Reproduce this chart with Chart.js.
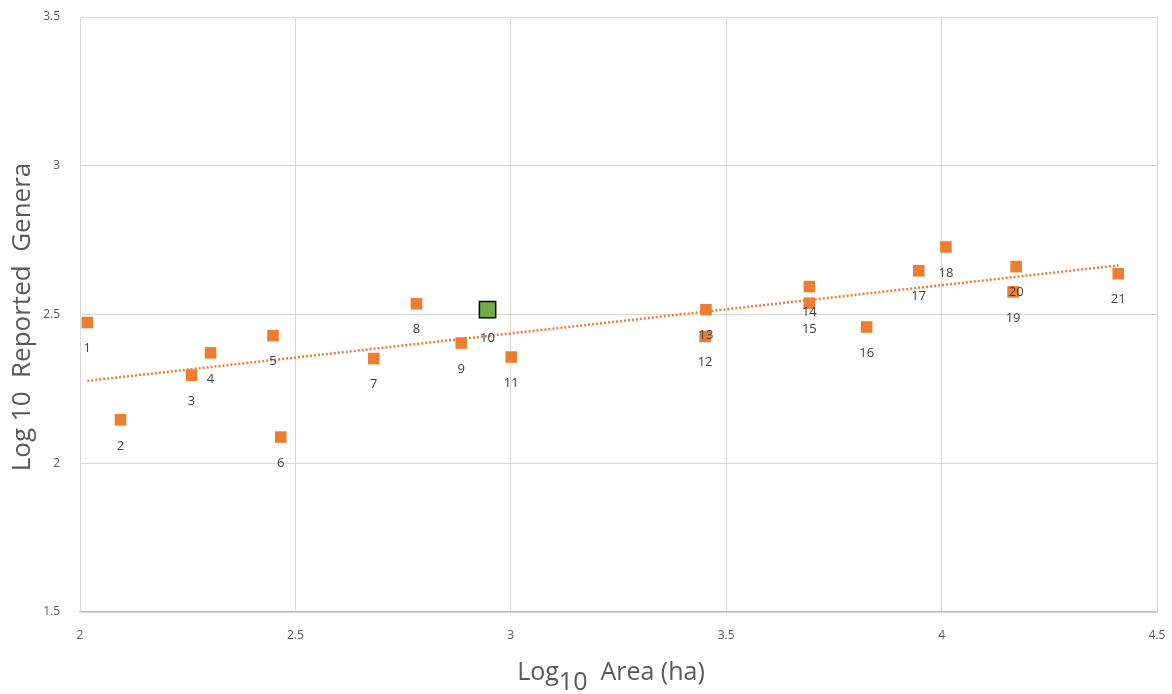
<!DOCTYPE html>
<html>
<head>
<meta charset="utf-8">
<script src="https://cdn.jsdelivr.net/npm/chart.js@4.4.0/dist/chart.umd.min.js"></script>
<style>
  html, body { margin: 0; padding: 0; background: #fff; }
  #wrap { width: 1172px; height: 694px; }
</style>
</head>
<body>
<div id="wrap"><canvas id="chart"></canvas></div>
<script>
// site numbers, log10 area and log10 genera
const siteIds = [1, 2, 3, 4, 5, 6, 7, 8, 9, 10, 11, 12, 13, 14, 15, 16, 17, 18, 19, 20, 21];
const logArea = [2.017, 2.094, 2.259, 2.303, 2.448, 2.466, 2.682, 2.781, 2.885, 2.946, 3.001,
                 3.451, 3.453, 3.693, 3.693, 3.826, 3.947, 4.010, 4.166, 4.173, 4.410];
const logGenera = [2.473, 2.146, 2.296, 2.371, 2.429, 2.088, 2.352, 2.536, 2.404, 2.516, 2.357,
                   2.426, 2.516, 2.594, 2.538, 2.458, 2.647, 2.727, 2.576, 2.661, 2.637];
const highlightSite = 10;

// linear trendline end points
const trendX = [2.017, 4.410];
const trendY = [2.277, 2.665];

const xTickValues = [2, 2.5, 3, 3.5, 4, 4.5];
const yTickValues = [1.5, 2, 2.5, 3, 3.5];

const ORANGE = "#ED7D31";
const GREEN = "#70AD47";
const FONT = "'Open Sans', 'Liberation Sans', sans-serif";

const points = logArea.map((x, i) => ({ x: x, y: logGenera[i] }));
const hi = siteIds.indexOf(highlightSite);

// numbers under each marker
const siteLabels = {
    id: "siteLabels",
    afterDatasetsDraw(chart) {
        const ctx = chart.ctx;
        const meta = chart.getDatasetMeta(1);
        ctx.save();
        ctx.font = "13px " + FONT;
        ctx.fillStyle = "#404040";
        ctx.textAlign = "center";
        ctx.textBaseline = "middle";
        meta.data.forEach((el, i) => {
            const off = i === hi ? 29 : 26;
            ctx.fillText(String(siteIds[i]), el.x, el.y + off);
        });
        ctx.restore();
    }
};

// axis titles (x title has a subscript)
const axisTitles = {
    id: "axisTitles",
    afterDraw(chart) {
        const ctx = chart.ctx;
        ctx.save();
        ctx.fillStyle = "#595959";
        ctx.textBaseline = "alphabetic";

        // y title
        ctx.save();
        ctx.font = "26px " + FONT;
        ctx.translate(30, 317);
        ctx.rotate(-Math.PI / 2);
        ctx.textAlign = "center";
        ctx.fillText("Log 10  Reported  Genera", 0, 0);
        ctx.restore();

        // x title
        ctx.font = "25px " + FONT;
        const a = "Log", b = "10", c = "  Area (ha)";
        const wa = ctx.measureText(a).width;
        const wb = ctx.measureText(b).width;
        const wc = ctx.measureText(c).width;
        let x = 611 - (wa + wb + wc) / 2;
        ctx.textAlign = "left";
        ctx.fillText(a, x, 680);
        x += wa;
        ctx.fillText(b, x, 690);
        x += wb;
        ctx.fillText(c, x, 680);
        ctx.restore();
    }
};

new Chart(document.getElementById("chart"), {
    type: "scatter",
    data: {
        datasets: [
            {
                label: "Highlighted site",
                data: [points[hi]],
                pointStyle: "rect",
                pointRadius: 11.5,
                pointHoverRadius: 11.5,
                backgroundColor: GREEN,
                borderColor: "#000",
                borderWidth: 1.5
            },
            {
                label: "Sites",
                data: points,
                pointStyle: "rect",
                pointRadius: 8.2,
                pointHoverRadius: 8.2,
                backgroundColor: ORANGE,
                borderColor: ORANGE,
                borderWidth: 0
            },
            {
                label: "Trend",
                type: "line",
                data: trendX.map((x, i) => ({ x: x, y: trendY[i] })),
                borderColor: ORANGE,
                borderWidth: 2.5,
                borderDash: [2, 2],
                pointRadius: 0,
                fill: false
            }
        ]
    },
    options: {
        responsive: true,
        maintainAspectRatio: false,
        animation: false,
        layout: { padding: { top: 17, right: 15, left: 0, bottom: 0 } },
        plugins: {
            legend: { display: false },
            tooltip: { enabled: false }
        },
        scales: {
            x: {
                type: "linear",
                min: xTickValues[0],
                max: xTickValues[xTickValues.length - 1],
                afterBuildTicks: (s) => { s.ticks = xTickValues.map(v => ({ value: v })); },
                afterFit: (s) => {
                    s.height = 82;
                    s.paddingLeft = 0; s.paddingRight = 0;
                },
                grid: { color: "#d9d9d9", drawTicks: false },
                border: { color: "#bfbfbf", width: 1.2 },
                ticks: {
                    padding: 16,
                    color: "#595959",
                    font: { size: 12, family: FONT },
                    callback: (v) => String(v)
                }
            },
            y: {
                type: "linear",
                min: yTickValues[0],
                max: yTickValues[yTickValues.length - 1],
                afterBuildTicks: (s) => { s.ticks = yTickValues.map(v => ({ value: v })); },
                afterFit: (s) => {
                    s.width = 80;
                    s.paddingTop = 0; s.paddingBottom = 0;
                },
                grid: { color: "#d9d9d9", drawTicks: false },
                border: { color: "#d9d9d9" },
                ticks: {
                    padding: 20,
                    color: "#595959",
                    font: { size: 12, family: FONT },
                    callback: (v) => String(v)
                }
            }
        }
    },
    plugins: [siteLabels, axisTitles]
});
</script>
</body>
</html>
